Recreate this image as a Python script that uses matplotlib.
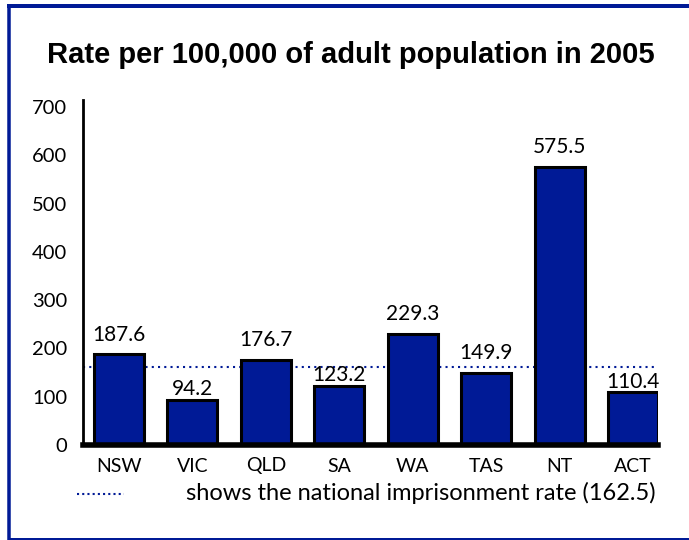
import matplotlib
matplotlib.use("Agg")
import matplotlib.pyplot as plt
from matplotlib.lines import Line2D

states = ['NSW', 'VIC', 'QLD', 'SA', 'WA', 'TAS', 'NT', 'ACT']
rates = [187.6, 94.2, 176.7, 123.2, 229.3, 149.9, 575.5, 110.4]
national_rate = 162.5
yticks = [0, 100, 200, 300, 400, 500, 600, 700]

navy = '#001a96'
body_font = 'Lato'

W, H = 689, 540
fig = plt.figure(figsize=(W / 100, H / 100), dpi=100)

# frame: left, top and bottom edges only (right side is cut off in the original)
def px(xp, yp):
    return xp / W, 1 - yp / H

for (x0, y0), (x1, y1), lw in [((9, 5.5), (9, 538.5), 3.5),
                                 ((9, 5.5), (700, 5.5), 4),
                                 ((9, 538.5), (700, 538.5), 2)]:
    a, b = px(x0, y0)
    c, d = px(x1, y1)
    fig.add_artist(Line2D([a, c], [b, d], transform=fig.transFigure,
                          color=navy, linewidth=lw * 0.72, solid_capstyle='projecting'))

ax = fig.add_axes([83 / W, 1 - 445 / H, (658 - 83) / W, (445 - 100) / H])
x = range(len(states))
ax.bar(x, rates, width=0.68, color=navy, edgecolor='black', linewidth=2.2, zorder=2)
ax.axhline(national_rate, color=navy, linestyle=(0, (1, 2)), linewidth=1.5, zorder=1)

# labels sitting just over the dotted line were tucked closer to their bars
tucked = {'VIC', 'SA', 'ACT'}
for xi, st, v in zip(x, states, rates):
    gap = 3 if st in tucked else 10
    ax.annotate(f'{v:.1f}', (xi, v), xytext=(0, gap), textcoords='offset points',
                ha='center', va='baseline', fontsize=15, family=body_font)

ax.set_xlim(-0.49, 7.34)
ax.set_ylim(0, 715)
ax.set_xticks(list(x))
ax.set_xticklabels(states, fontsize=14, family=body_font)
ax.set_yticks(yticks)
ax.set_yticklabels([str(t) for t in yticks], fontsize=14.5, family=body_font)
ax.tick_params(axis='both', length=0)
ax.tick_params(axis='y', pad=11.5)
ax.tick_params(axis='x', pad=9)

for s in ['top', 'right']:
    ax.spines[s].set_visible(False)
ax.spines['left'].set_linewidth(2)
ax.spines['bottom'].set_linewidth(4)
ax.spines['bottom'].set_zorder(3)

fig.text(351 / W, 1 - 55 / H, 'Rate per 100,000 of adult population in 2005',
         ha='center', va='center', fontsize=21, fontweight='bold',
         family='Liberation Sans')

# note explaining the dotted line
fig.add_artist(Line2D([77 / W, 124 / W], [1 - 494 / H, 1 - 494 / H],
                      transform=fig.transFigure, color=navy,
                      linestyle=(0, (1, 1.5)), linewidth=1.5))
fig.text(186 / W, 1 - 493 / H, 'shows the national imprisonment rate (162.5)',
         ha='left', va='center', fontsize=17, family=body_font)

fig.savefig('out.png', dpi=100)
